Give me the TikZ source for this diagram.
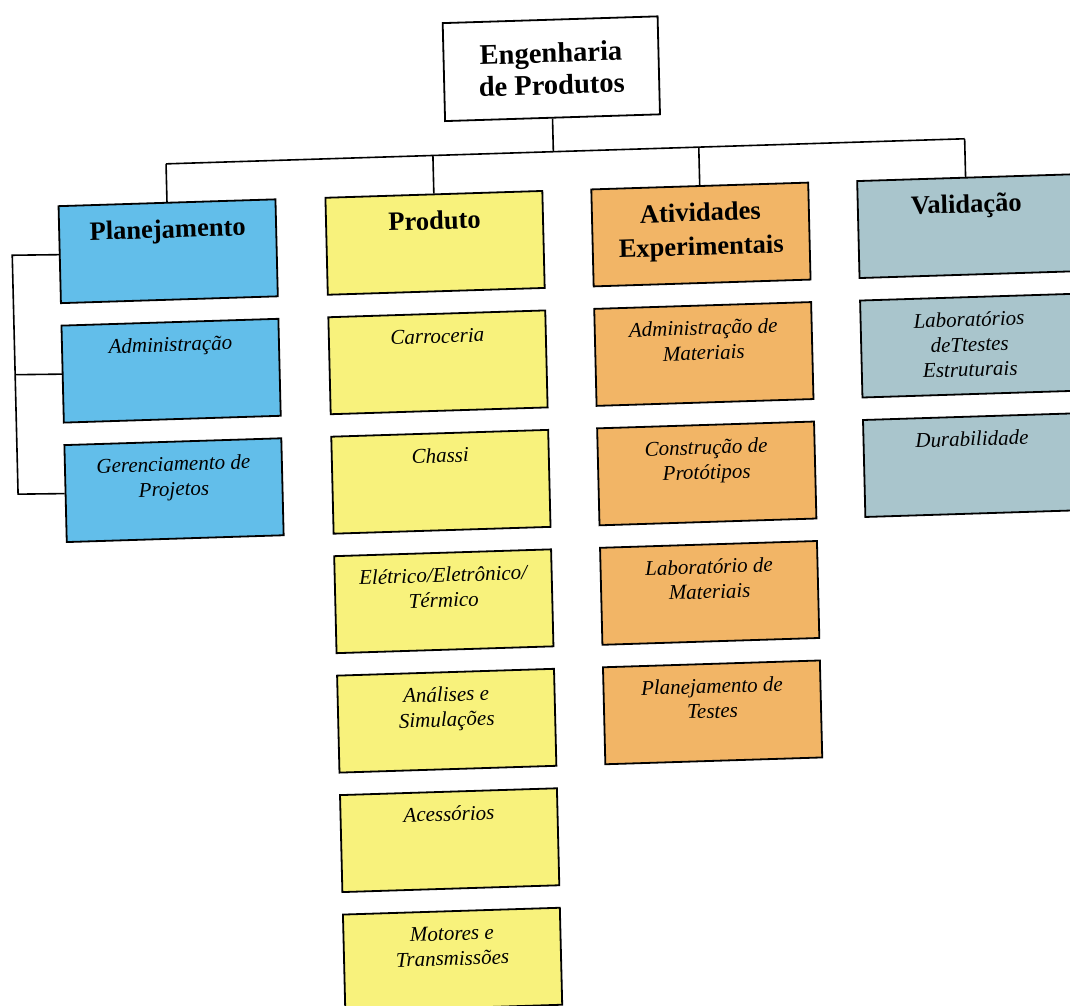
\documentclass[tikz,border=0pt]{standalone}
\usepackage{fontspec}
\setmainfont{Liberation Serif}
\definecolor{planblue}{HTML}{62BEEA}
\definecolor{prodyellow}{HTML}{F8F27C}
\definecolor{expcorange}{HTML}{F2B566}
\definecolor{valgrey}{HTML}{A9C5CC}
\begin{document}
\begin{tikzpicture}[x=1pt,y=1pt,
  box/.style={draw=black, line width=1.8pt, minimum width=217pt,
    minimum height=97pt, inner sep=0pt, anchor=north},
  conn/.style={draw=black, line width=1.6pt},
  headtxt/.style={anchor=north, inner sep=0pt, align=center,
    font=\fontsize{26.5}{34}\selectfont\bfseries, yshift=-12pt},
  subtxt/.style={anchor=north, inner sep=0pt, align=center,
    font=\fontsize{21}{25}\selectfont\itshape, yshift=-12.5pt},
  toptxt/.style={align=center, font=\fontsize{28.5}{32}\selectfont\bfseries}]
\useasboundingbox (0,0) rectangle (1070,-1005);
\clip (0,0) rectangle (1070,-1005);
\fill[white] (0,0) rectangle (1070,-1005);
% the whole chart sits slightly tilted on the page
\begin{scope}[cm={0.99951,0.03141,-0.02443,0.99970,(0,0)}, transform shape]

% root
\node[box, anchor=center, fill=white, minimum width=215pt, minimum height=98pt,
  toptxt] (eng) at (549.5,-86) {Engenharia\\de Produtos};

% column heads
\node[box, fill=planblue]   (plan) at (162,-207) {};
\node[box, fill=prodyellow] (prod) at (429,-207) {};
\node[box, fill=expcorange] (expr) at (695,-207) {};
\node[box, fill=valgrey]    (vali) at (961,-207) {};
\node[headtxt] (planT) at (plan.north) {\strut Planejamento};
\node[headtxt] (prodT) at (prod.north) {\strut Produto};
\node[headtxt] (exprT) at (expr.north) {\strut Atividades\\Experimentais};
\node[headtxt] (valiT) at (vali.north) {\strut Valida\c{c}\~ao};

% Planejamento
\node[box, fill=planblue] (pl1) at (162,-326.5) {};
\node[box, fill=planblue] (pl2) at (162,-446) {};
\node[subtxt] (pl1T) at (pl1.north) {\strut Administra\c{c}\~ao};
\node[subtxt] (pl2T) at (pl2.north) {\strut Gerenciamento de\\Projetos};

% Produto
\node[box, fill=prodyellow] (pr1) at (429,-326.5) {};
\node[box, fill=prodyellow] (pr2) at (429,-446) {};
\node[box, fill=prodyellow] (pr3) at (429,-565.5) {};
\node[box, fill=prodyellow] (pr4) at (429,-685) {};
\node[box, fill=prodyellow] (pr5) at (429,-804.5) {};
\node[box, fill=prodyellow] (pr6) at (429,-924) {};
\node[subtxt] (pr1T) at (pr1.north) {\strut Carroceria};
\node[subtxt] (pr2T) at (pr2.north) {\strut Chassi};
\node[subtxt] (pr3T) at (pr3.north) {\strut El\'etrico/Eletr\^onico/\\T\'ermico};
\node[subtxt] (pr4T) at (pr4.north) {\strut An\'alises e\\Simula\c{c}\~oes};
\node[subtxt] (pr5T) at (pr5.north) {\strut Acess\'orios};
\node[subtxt] (pr6T) at (pr6.north) {\strut Motores e\\Transmiss\~oes};

% Atividades Experimentais
\node[box, fill=expcorange] (ex1) at (695,-326.5) {};
\node[box, fill=expcorange] (ex2) at (695,-446) {};
\node[box, fill=expcorange] (ex3) at (695,-565.5) {};
\node[box, fill=expcorange] (ex4) at (695,-685) {};
\node[subtxt] (ex1T) at (ex1.north) {\strut Administra\c{c}\~ao de\\Materiais};
\node[subtxt] (ex2T) at (ex2.north) {\strut Constru\c{c}\~ao de\\Prot\'otipos};
\node[subtxt] (ex3T) at (ex3.north) {\strut Laborat\'orio de\\Materiais};
\node[subtxt] (ex4T) at (ex4.north) {\strut Planejamento de\\Testes};

% Validacao
\node[box, fill=valgrey] (va1) at (961,-326.5) {};
\node[box, fill=valgrey] (va2) at (961,-446) {};
\node[subtxt] (va1T) at (va1.north) {\strut Laborat\'orios\\deTtestes\\Estruturais};
\node[subtxt] (va2T) at (va2.north) {\strut Durabilidade};

% root to column heads
\coordinate (hub) at (549.5,-169);
\coordinate (j1) at (162,-169);
\coordinate (j2) at (429,-169);
\coordinate (j3) at (695,-169);
\coordinate (j4) at (961,-169);
\draw[conn] (eng.south) -- (hub);
\draw[conn] (j1) -- (j4);
\draw[conn] (j1) -- (plan.north);
\draw[conn] (j2) -- (prod.north);
\draw[conn] (j3) -- (expr.north);
\draw[conn] (j4) -- (vali.north);

% bracket on the left of Planejamento
\coordinate (bk1) at (6,-255.5);
\coordinate (bk2) at (6,-375);
\coordinate (bk3) at (6,-494.5);
\draw[conn] (plan.west) -- (bk1) -- (bk3) -- (pl2.west);
\draw[conn] (bk2) -- (pl1.west);
\end{scope}
\end{tikzpicture}
\end{document}
